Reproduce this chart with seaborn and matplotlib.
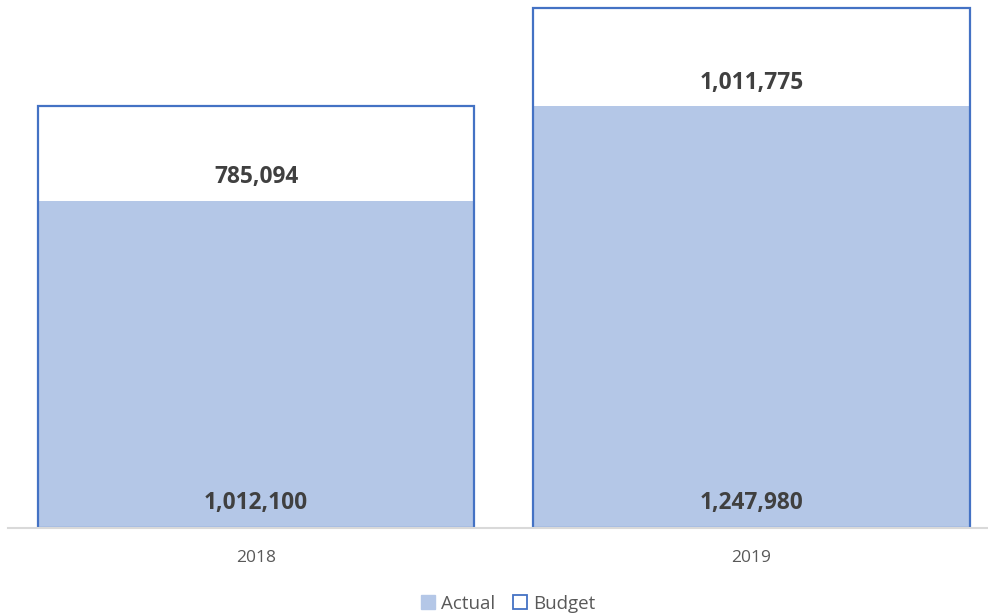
import matplotlib
matplotlib.use("Agg")
import matplotlib.pyplot as plt
from matplotlib.lines import Line2D
import seaborn as sns
import pandas as pd

years = ["2018", "2019"]
actual = [785094, 1011775]
budget = [1012100, 1247980]

sns.set_theme(style="white")
plt.rcParams['font.family'] = ['Open Sans', 'DejaVu Sans']

df = pd.DataFrame({"year": years, "Actual": actual, "Budget": budget})

fig = plt.figure(figsize=(9.88, 6.15), dpi=100)
W, H = 988, 615
base_px = 527.5
ax = fig.add_axes([8.25 / W, 1 - base_px / H, 991 / W, base_px / H])

fill_c = "#B4C7E7"
edge_c = "#4472C4"
txt_c = "#404040"

sns.barplot(data=df, x="year", y="Actual", color=fill_c, saturation=1,
            width=0.88, linewidth=0, ax=ax, errorbar=None)
sns.barplot(data=df, x="year", y="Budget", color=edge_c, saturation=1,
            width=0.88, fill=False, linewidth=1.6, ax=ax, errorbar=None)

ax.set_xlim(-0.5, 1.5)
ax.set_ylim(0, 1267000)

for i, (a, b) in enumerate(zip(actual, budget)):
    ax.annotate(f"{a:,}", xy=(i, a), xytext=(0, 17), textcoords="offset points",
                ha="center", va="center", fontsize=16.3, fontweight="bold", color=txt_c)
    ax.annotate(f"{b:,}", xy=(i, 0), xytext=(0, 17.5), textcoords="offset points",
                ha="center", va="center", fontsize=16.3, fontweight="bold", color=txt_c)

for s in ["left", "right", "top"]:
    ax.spines[s].set_visible(False)
ax.spines["bottom"].set_color("#D9D9D9")
ax.spines["bottom"].set_linewidth(1.5)
ax.set_yticks([])
ax.set_xlabel("")
ax.set_ylabel("")
ax.tick_params(axis="x", length=0, pad=16.5, labelsize=12.5, labelcolor="#595959")

handles = [
    Line2D([], [], marker="s", linestyle="none", markersize=10,
           markerfacecolor=fill_c, markeredgecolor=fill_c, label="Actual"),
    Line2D([], [], marker="s", linestyle="none", markersize=9.5,
           markerfacecolor="white", markeredgecolor=edge_c, markeredgewidth=1.3,
           label="Budget"),
]
fig.legend(handles=handles, loc="center", bbox_to_anchor=(508 / W, 1 - 604 / H),
           ncol=2, frameon=False, fontsize=13.5, handlelength=0.8,
           handletextpad=0.3, columnspacing=0.9, labelcolor="#595959")

fig.savefig("out.png", dpi=100)
